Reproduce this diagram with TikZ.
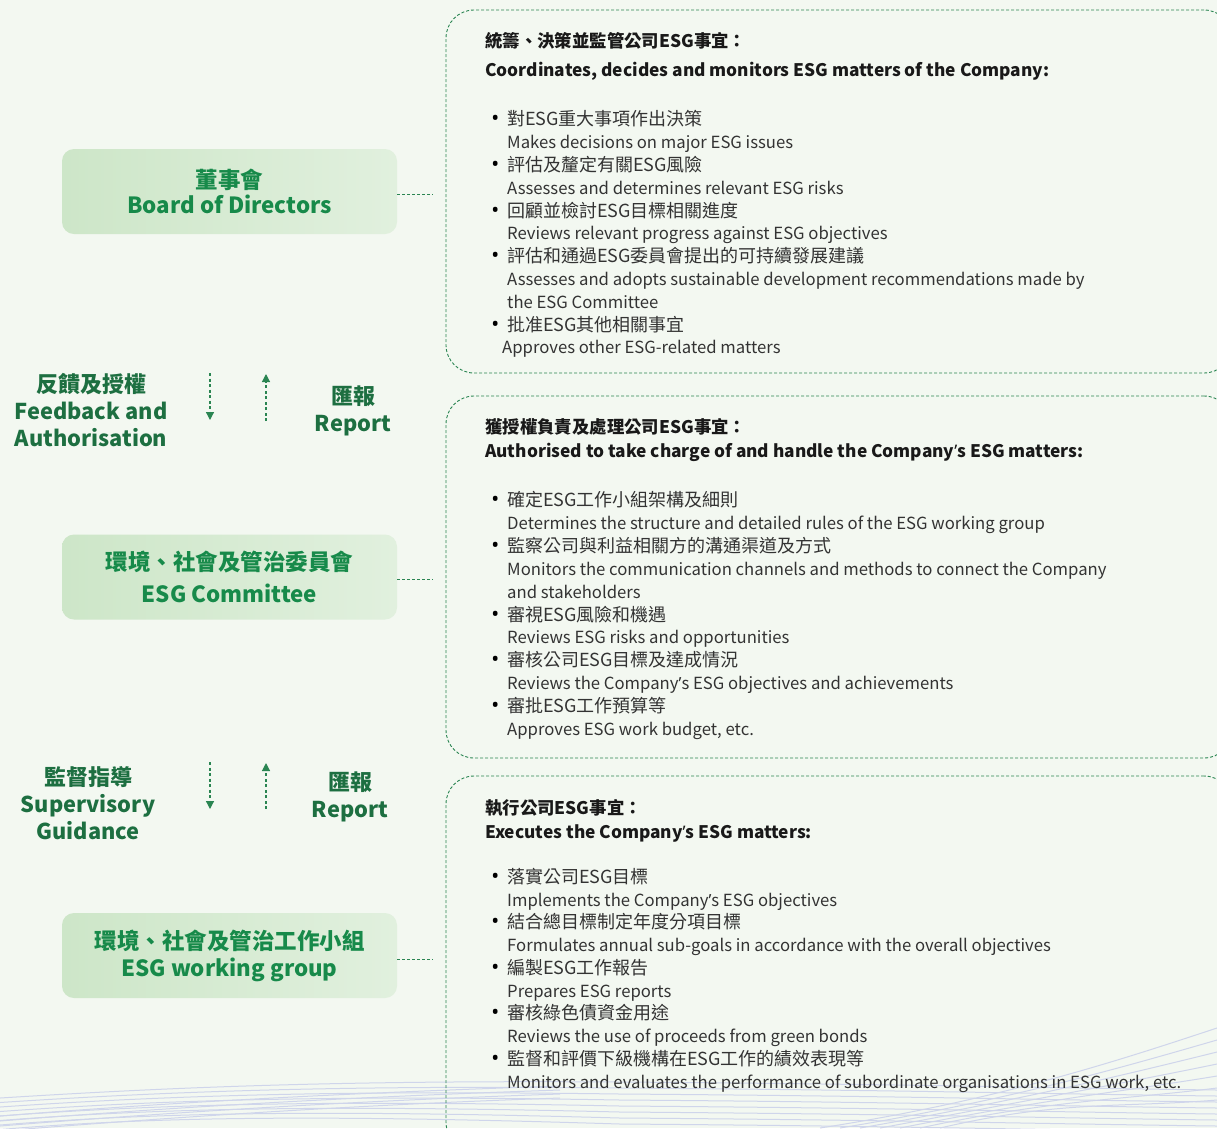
\documentclass[tikz,border=0pt]{standalone}
\usepackage{fontspec}
\setmainfont{Noto Sans CJK TC}
\newfontfamily\latinfont{Noto Sans}
\usetikzlibrary{arrows.meta}
\definecolor{bg}{HTML}{F3F8F1}
\definecolor{boxgreen}{HTML}{178A4A}
\definecolor{labgreen}{HTML}{1D6F41}
\definecolor{dashgreen}{HTML}{2A8552}
\definecolor{fillA}{HTML}{CDE6C8}
\definecolor{fillB}{HTML}{E1F0DE}
\definecolor{bodytext}{HTML}{333333}
\definecolor{wave}{HTML}{CFD5EB}
\tikzset{
  rolebox/.style={rectangle, rounded corners=12pt, minimum width=335pt, minimum height=85pt,
    left color=fillA, right color=fillB, draw=none, align=center, text=boxgreen,
    font=\bfseries, inner sep=0pt},
  lab/.style={align=center, text=labgreen, font=\bfseries\fontsize{21.8}{27}\selectfont, inner sep=0pt},
  descbox/.style={rectangle, rounded corners=28pt, draw=dashgreen, line width=0.9pt,
    dash pattern=on 3pt off 2pt, minimum width=786pt},
  conn/.style={draw=dashgreen, line width=0.9pt, dash pattern=on 3pt off 2pt},
  flow/.style={draw=dashgreen, line width=1.2pt, dash pattern=on 3pt off 2.5pt,
    -{Triangle[length=8pt,width=8pt]}},
  hdc/.style={anchor=base west, inner sep=0pt, text=black!90, font=\bfseries\fontsize{17.4}{20}\selectfont},
  hde/.style={anchor=base west, inner sep=0pt, text=black!90, font=\bfseries\fontsize{17.3}{22}\selectfont},
  itm/.style={anchor=base west, inner sep=0pt, text=bodytext, font=\fontsize{18}{22}\selectfont},
  eng/.style={anchor=base west, inner sep=0pt, text=bodytext, font=\fontsize{16.7}{22}\selectfont},
  wv/.style={draw=wave, line width=1pt}
}
\newcommand\bul{\llap{{\color{black}\latinfont\fontsize{21}{21}\selectfont\textbullet}\hspace{8pt}}}
\newcommand\apos{{\latinfont ’}}
\begin{document}
\begin{tikzpicture}[x=1pt,y=-1pt]
\useasboundingbox (0,0) rectangle (1217,1128);
\fill[bg] (0,0) rectangle (1217,1128);
\begin{scope}
\clip (0,0) rectangle (1217,1128);
% waves
\foreach \i in {0,...,7}{
  \draw[wv] (0,{1098+4.5*\i}) .. controls (160,{1088+4*\i}) and (330,{1080+5*\i}) .. (620,{1082+6*\i})
     .. controls (900,{1084+6*\i}) and (1050,{1088+6*\i}) .. (1217,{1090+6*\i});
}
\foreach \i in {0,...,6}{
  \draw[wv] ({820+20*\i},1128) .. controls ({1000+10*\i},{1100}) and (1120,{1060+8*\i}) .. (1217,{1028+12*\i});
}
\foreach \i in {0,...,3}{
  \draw[wv] (0,{1116+5*\i}) .. controls (200,{1100+5*\i}) and (380,{1092+4*\i}) .. (560,{1086+4*\i});
}
% description boxes
\node[descbox, minimum height=363pt] (r1) at (839,191.5) {};
\node[descbox, minimum height=362pt] (r2) at (839,577) {};
\node[descbox, minimum height=374pt] (r3) at (839,963) {};
\end{scope}

% role boxes
\node[rolebox] (bod) at (229.5,191.5) {\raisebox{2pt}{\fontsize{22.5}{22}\selectfont 董事會}\\[4pt]{\fontsize{22.3}{24}\selectfont Board of Directors}};
\node[rolebox] (esgc) at (229.5,577) {{\fontsize{22.5}{22}\selectfont 環境、社會及管治委員會}\\[10pt]{\fontsize{22.3}{24}\selectfont ESG Committee}};
\node[rolebox] (esgw) at (229.5,955.5) {\raisebox{-1pt}{\fontsize{22.5}{22}\selectfont 環境、社會及管治工作小組}\\[5pt]\raisebox{-2pt}{\fontsize{22.3}{24}\selectfont ESG working group}};

% connectors to description boxes
\draw[conn, shorten >=13pt] (bod.east |- 0,194) -- (r1.west |- 0,194);
\draw[conn, shorten >=13pt] (esgc.east |- 0,579) -- (r2.west |- 0,579);
\draw[conn, shorten >=13pt] (esgw.east |- 0,959) -- (r3.west |- 0,959);

% flow arrows
\coordinate (d1s) at (210,373); \coordinate (d1e) at (210,420);
\coordinate (u1s) at (266,421); \coordinate (u1e) at (266,374);
\coordinate (d2s) at (210,762); \coordinate (d2e) at (210,809);
\coordinate (u2s) at (266,809); \coordinate (u2e) at (266,763);
\draw[flow] (d1s) -- (d1e);
\draw[flow] (u1s) -- (u1e);
\draw[flow] (d2s) -- (d2e);
\draw[flow] (u2s) -- (u2e);

% labels
\node[lab] (fb) at (91,410) {{\fontsize{22}{22}\selectfont 反饋及授權}\\Feedback and\\Authorisation};
\node[lab] (rp1) at (353,411) {{\fontsize{22}{22}\selectfont 匯報}\\Report};
\node[lab] (sg) at (88,803) {{\fontsize{22}{22}\selectfont 監督指導}\\Supervisory\\Guidance};
\node[lab] (rp2) at (350,797) {{\fontsize{22}{22}\selectfont 匯報}\\Report};

% box 1 text
\node[hdc] (h1c) at (485,47) {統籌、決策並監管公司ESG事宜：};
\node[hde] (h1e) at (485,76) {Coordinates, decides and monitors ESG matters of the Company:};
\node[itm] (a1) at (507,125) {\bul 對ESG重大事項作出決策};
\node[eng] (a2) at (507,148) {Makes decisions on major ESG issues};
\node[itm] (a3) at (507,171) {\bul 評估及釐定有關ESG風險};
\node[eng] (a4) at (507,194) {Assesses and determines relevant ESG risks};
\node[itm] (a5) at (507,217) {\bul 回顧並檢討ESG目標相關進度};
\node[eng] (a6) at (507,239) {Reviews relevant progress against ESG objectives};
\node[itm] (a7) at (507,262) {\bul 評估和通過ESG委員會提出的可持續發展建議};
\node[eng] (a8) at (507,285) {Assesses and adopts sustainable development recommendations made by};
\node[eng] (a9) at (507,308) {the ESG Committee};
\node[itm] (a10) at (507,331) {\bul 批准ESG其他相關事宜};
\node[eng] (a11) at (502,353) {Approves other ESG-related matters};

% box 2 text
\node[hdc] (h2c) at (485,433) {獲授權負責及處理公司ESG事宜：};
\node[hde] (h2e) at (485,457) {Authorised to take charge of and handle the Company\apos s ESG matters:};
\node[itm] (b1) at (507,506) {\bul 確定ESG工作小組架構及細則};
\node[eng] (b2) at (507,529) {Determines the structure and detailed rules of the ESG working group};
\node[itm] (b3) at (507,552) {\bul 監察公司與利益相關方的溝通渠道及方式};
\node[eng] (b4) at (507,575) {Monitors the communication channels and methods to connect the Company};
\node[eng] (b5) at (507,598) {and stakeholders};
\node[itm] (b6) at (507,621) {\bul 審視ESG風險和機遇};
\node[eng] (b7) at (507,643) {Reviews ESG risks and opportunities};
\node[itm] (b8) at (507,666) {\bul 審核公司ESG目標及達成情況};
\node[eng] (b9) at (507,689) {Reviews the Company\apos s ESG objectives and achievements};
\node[itm] (b10) at (507,712) {\bul 審批ESG工作預算等};
\node[eng] (b11) at (507,735) {Approves ESG work budget, etc.};

% box 3 text
\node[hdc] (h3c) at (485,814) {執行公司ESG事宜：};
\node[hde] (h3e) at (485,838) {Executes the Company\apos s ESG matters:};
\node[itm] (c1) at (507,883) {\bul 落實公司ESG目標};
\node[eng] (c2) at (507,906) {Implements the Company\apos s ESG objectives};
\node[itm] (c3) at (507,928) {\bul 結合總目標制定年度分項目標};
\node[eng] (c4) at (507,951) {Formulates annual sub-goals in accordance with the overall objectives};
\node[itm] (c5) at (507,974) {\bul 編製ESG工作報告};
\node[eng] (c6) at (507,997) {Prepares ESG reports};
\node[itm] (c7) at (507,1019) {\bul 審核綠色債資金用途};
\node[eng] (c8) at (507,1042) {Reviews the use of proceeds from green bonds};
\node[itm] (c9) at (507,1065) {\bul 監督和評價下級機構在ESG工作的績效表現等};
\node[eng] (c10) at (507,1088) {Monitors and evaluates the performance of subordinate organisations in ESG work, etc.};
\end{tikzpicture}
\end{document}
